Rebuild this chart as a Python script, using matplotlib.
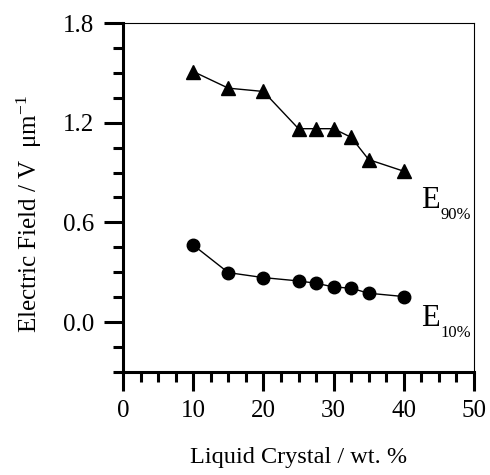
import matplotlib
matplotlib.use("Agg")
import matplotlib.pyplot as plt
from matplotlib.ticker import MultipleLocator

plt.rcParams['font.family'] = ['Liberation Serif', 'DejaVu Serif']
plt.rcParams['mathtext.fontset'] = 'custom'
plt.rcParams['mathtext.rm'] = 'Liberation Serif'
plt.rcParams['mathtext.it'] = 'Liberation Serif:italic'

lc_wt = [10, 15, 20, 25, 27.5, 30, 32.5, 35, 40]
e90 = [1.508, 1.408, 1.388, 1.164, 1.164, 1.164, 1.112, 0.978, 0.908]
e10 = [0.464, 0.298, 0.268, 0.248, 0.234, 0.212, 0.204, 0.174, 0.154]
xticks = [0, 10, 20, 30, 40, 50]
yticks = [0.0, 0.6, 1.2, 1.8]

fig = plt.figure(figsize=(4.9, 4.75), dpi=100)
ax = fig.add_axes([123/490, 1-372/475, (474-123)/490, (372-23)/475])

ax.plot(lc_wt, e90, '-', color='black', lw=1.0, marker='^', ms=10, mfc='black', mec='black')
ax.plot(lc_wt, e10, '-', color='black', lw=1.0, marker='o', ms=9, mfc='black', mec='black')

ax.set_xlim(0, 50)
ax.set_ylim(-0.3, 1.8)
ax.set_xticks(xticks)
ax.set_yticks(yticks)
ax.set_yticklabels([f"{v:.1f}" for v in yticks])
ax.xaxis.set_minor_locator(MultipleLocator(2.5))
ax.yaxis.set_minor_locator(MultipleLocator(0.15))

for s in ['left', 'bottom']:
    ax.spines[s].set_linewidth(2.2)
for s in ['top', 'right']:
    ax.spines[s].set_linewidth(0.8)

ax.tick_params(which='major', direction='out', length=13.5, width=2.2, labelsize=18, pad=7)
ax.tick_params(which='minor', direction='out', length=7, width=2.2)
ax.tick_params(top=False, right=False, which='both')

ax.set_xlabel('Liquid Crystal / wt. %', fontsize=17.5, labelpad=18)
ax.set_ylabel('Electric Field / V  μm$^{-1}$', fontsize=18)
ax.yaxis.set_label_coords(-0.225, 0.453)

ax.annotate('E', xy=(42.5, 0.73), fontsize=22, ha='left', va='center')
ax.annotate('90%', xy=(42.5, 0.73), xytext=(14, -10), textcoords='offset points', fontsize=12, ha='left', va='center')
ax.annotate('E', xy=(42.5, 0.02), fontsize=22, ha='left', va='center')
ax.annotate('10%', xy=(42.5, 0.02), xytext=(14, -10), textcoords='offset points', fontsize=12, ha='left', va='center')

fig.savefig('out.png', dpi=100)
